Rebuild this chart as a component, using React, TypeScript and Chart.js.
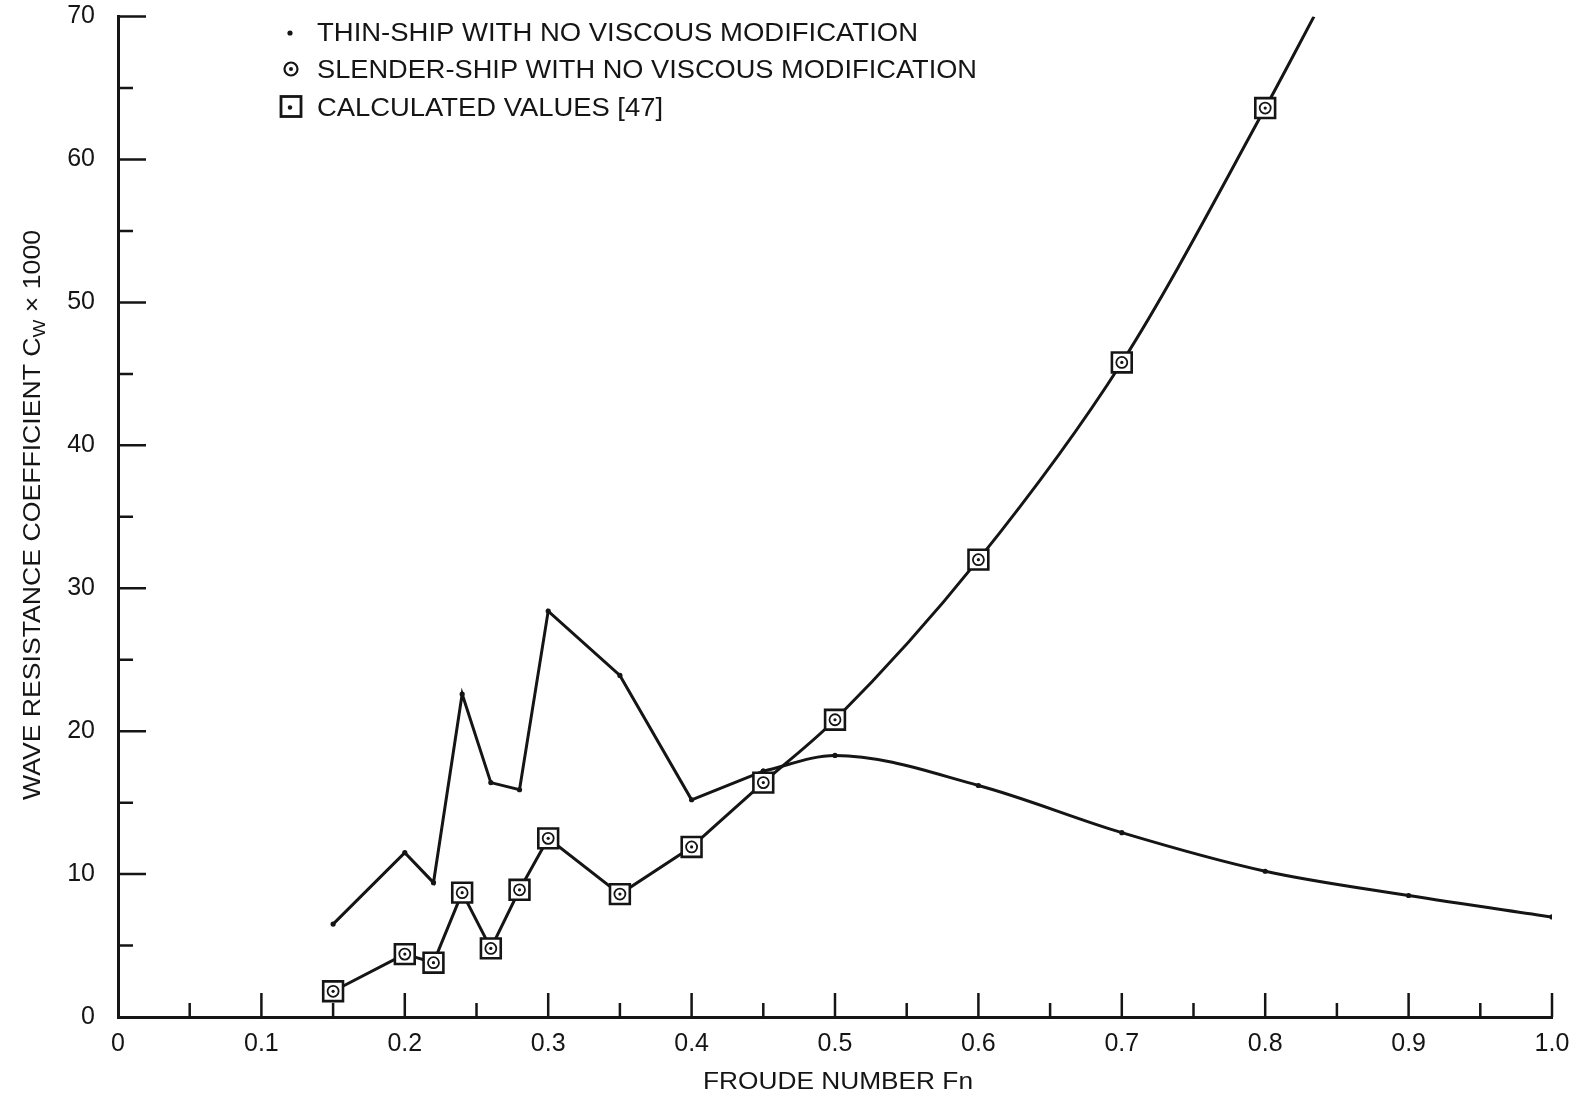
import React, { useEffect, useRef } from 'react';
import { Chart, registerables } from 'chart.js';

Chart.register(...registerables);

// ---- data ----
const thinFn = [0.15, 0.2, 0.22, 0.24, 0.26, 0.28, 0.3, 0.35, 0.4, 0.45, 0.5, 0.6, 0.7, 0.8, 0.9, 1.0];
const thinCw = [6.5, 11.5, 9.4, 22.6, 16.4, 15.9, 28.4, 23.9, 15.2, 17.2, 18.3, 16.2, 12.9, 10.2, 8.5, 7.0];
const thinBreakIndex = 9; // straight segments up to Fn 0.45, smooth afterwards

const slenderFn = [0.15, 0.2, 0.22, 0.24, 0.26, 0.28, 0.3, 0.35, 0.4, 0.45, 0.5, 0.6, 0.7, 0.8];
const slenderCw = [1.8, 4.4, 3.8, 8.7, 4.8, 8.9, 12.5, 8.6, 11.9, 16.4, 20.8, 32.0, 45.8, 63.6];
const slenderBreakIndex = 8; // straight segments up to Fn 0.40, smooth afterwards
const slenderTailFn = [0.834];
const slenderTailCw = [70];

const calcFn = [0.15, 0.2, 0.22, 0.24, 0.26, 0.28, 0.3, 0.35, 0.4, 0.45, 0.5, 0.6, 0.7, 0.8];
const calcCw = [1.8, 4.4, 3.8, 8.7, 4.8, 8.9, 12.5, 8.6, 11.9, 16.4, 20.8, 32.0, 45.8, 63.6];

const xTickLabels = ['0', '0.1', '0.2', '0.3', '0.4', '0.5', '0.6', '0.7', '0.8', '0.9', '1.0'];
const legendLabels = [
  'THIN-SHIP WITH NO VISCOUS MODIFICATION',
  'SLENDER-SHIP WITH NO VISCOUS MODIFICATION',
  'CALCULATED VALUES [47]',
];
const xTitle = 'FROUDE NUMBER Fn';
const yTitleMain = 'WAVE RESISTANCE COEFFICIENT C';
const yTitleSub = 'W';
const yTitleTail = ' \u00d7 1000';

const INK = '#151515';
const FONT = '"Liberation Sans", Arial, sans-serif';

const pts = (xs: number[], ys: number[]) => xs.map((x, i) => ({ x, y: ys[i] }));

function fitText(ctx: CanvasRenderingContext2D, text: string, x: number, baseline: number, width: number, size: number, align: 'left' | 'center' = 'left') {
  ctx.save();
  ctx.font = `${size}px ${FONT}`;
  ctx.textBaseline = 'alphabetic';
  ctx.textAlign = 'left';
  const w = ctx.measureText(text).width;
  const s = width / w;
  ctx.translate(align === 'center' ? x - width / 2 : x, baseline);
  ctx.scale(s, 1);
  ctx.fillText(text, 0, 0);
  ctx.restore();
}

const decorPlugin = {
  id: 'decor',
  afterDraw(chart: any) {
    const ctx: CanvasRenderingContext2D = chart.ctx;
    const xs = chart.scales.x;
    const ys = chart.scales.y;
    const a = chart.chartArea;
    ctx.save();
    ctx.strokeStyle = INK;
    ctx.fillStyle = INK;
    ctx.lineWidth = 2.5;
    ctx.lineCap = 'butt';
    // inward ticks on y axis
    ctx.beginPath();
    for (let i = 0; i <= 14; i++) {
      const v = i * 5;
      const p = ys.getPixelForValue(v);
      const len = i % 2 === 0 ? 28 : 15;
      if (v === 0) continue;
      ctx.moveTo(a.left, p);
      ctx.lineTo(a.left + len, p);
    }
    // inward ticks on x axis
    for (let i = 1; i <= 20; i++) {
      const v = i * 0.05;
      const p = xs.getPixelForValue(v);
      const len = i % 2 === 0 ? 24 : 14;
      ctx.moveTo(p, a.bottom);
      ctx.lineTo(p, a.bottom - len);
    }
    ctx.stroke();

    // x title
    ctx.fillStyle = INK;
    fitText(ctx, xTitle, 838, 1089, 270, 24, 'center');

    // y title (rotated, with subscript)
    const mainSize = 24;
    const subSize = 17;
    ctx.font = `${mainSize}px ${FONT}`;
    const w1 = ctx.measureText(yTitleMain).width;
    const w3 = ctx.measureText(yTitleTail).width;
    ctx.font = `${subSize}px ${FONT}`;
    const w2 = ctx.measureText(yTitleSub).width;
    const total = w1 + w2 + w3;
    const s = 570 / total;
    ctx.save();
    ctx.translate(31, 515);
    ctx.rotate(-Math.PI / 2);
    ctx.scale(s, 1);
    ctx.textBaseline = 'alphabetic';
    ctx.textAlign = 'left';
    let cx = -total / 2;
    const base = 8.6;
    ctx.font = `${mainSize}px ${FONT}`;
    ctx.fillText(yTitleMain, cx, base);
    cx += w1;
    ctx.font = `${subSize}px ${FONT}`;
    ctx.fillText(yTitleSub, cx, base + 5);
    cx += w2;
    ctx.font = `${mainSize}px ${FONT}`;
    ctx.fillText(yTitleTail, cx, base);
    ctx.restore();

    // legend
    const rowY = [31.5, 69, 106.5];
    const rowW = [601, 660, 346];
    const mx = 291;
    // dot
    ctx.beginPath();
    ctx.arc(mx - 1, rowY[0] + 1.5, 2.6, 0, Math.PI * 2);
    ctx.fill();
    // circle with dot
    ctx.lineWidth = 2.2;
    ctx.beginPath();
    ctx.arc(mx, rowY[1], 6.5, 0, Math.PI * 2);
    ctx.stroke();
    ctx.beginPath();
    ctx.arc(mx, rowY[1], 2, 0, Math.PI * 2);
    ctx.fill();
    // square with dot
    ctx.lineWidth = 2.8;
    ctx.strokeRect(mx - 10, rowY[2] - 10, 20, 20);
    ctx.beginPath();
    ctx.arc(mx - 1, rowY[2] + 1, 2.2, 0, Math.PI * 2);
    ctx.fill();
    for (let i = 0; i < legendLabels.length; i++) {
      fitText(ctx, legendLabels[i], 317, rowY[i] + 9, rowW[i], 25);
    }
    ctx.restore();
  },
};

export default function App() {
  const ref = useRef<HTMLCanvasElement | null>(null);

  useEffect(() => {
    document.body.style.margin = '0';
    document.body.style.background = '#ffffff';
    const canvas = ref.current;
    if (!canvas) return;

    const thinA = pts(thinFn.slice(0, thinBreakIndex + 1), thinCw.slice(0, thinBreakIndex + 1));
    const thinB = pts(thinFn.slice(thinBreakIndex), thinCw.slice(thinBreakIndex));
    const slenA = pts(slenderFn.slice(0, slenderBreakIndex + 1), slenderCw.slice(0, slenderBreakIndex + 1));
    const slenB = pts(
      slenderFn.slice(slenderBreakIndex).concat(slenderTailFn),
      slenderCw.slice(slenderBreakIndex).concat(slenderTailCw)
    );

    const lineBase = {
      borderColor: INK,
      borderWidth: 3,
      fill: false,
      pointRadius: 0,
      pointHoverRadius: 0,
      order: 10,
    };

    const chart = new Chart(canvas, {
      type: 'line',
      data: {
        datasets: [
          {
            ...lineBase,
            label: 'thin-a',
            data: thinA,
            tension: 0,
            pointRadius: 2.6,
            pointBackgroundColor: INK,
            pointBorderWidth: 0,
          },
          {
            ...lineBase,
            label: 'thin-b',
            data: thinB,
            cubicInterpolationMode: 'monotone',
            pointRadius: 2.6,
            pointBackgroundColor: INK,
            pointBorderWidth: 0,
          },
          { ...lineBase, label: 'slender-a', data: slenA, tension: 0 },
          { ...lineBase, label: 'slender-b', data: slenB, cubicInterpolationMode: 'monotone' },
          {
            label: 'calculated',
            data: pts(calcFn, calcCw),
            showLine: false,
            pointStyle: 'rect',
            pointRadius: 14,
            pointBorderWidth: 2.6,
            pointBorderColor: INK,
            pointBackgroundColor: '#ffffff',
            order: 3,
          },
          {
            label: 'slender',
            data: pts(slenderFn, slenderCw),
            showLine: false,
            pointStyle: 'circle',
            pointRadius: 5.5,
            pointBorderWidth: 1.8,
            pointBorderColor: INK,
            pointBackgroundColor: '#ffffff',
            order: 2,
          },
          {
            label: 'slender-dot',
            data: pts(slenderFn, slenderCw),
            showLine: false,
            pointStyle: 'circle',
            pointRadius: 1.6,
            pointBorderWidth: 0,
            pointBackgroundColor: INK,
            order: 1,
          },
        ] as any,
      },
      options: {
        animation: false,
        responsive: false,
        maintainAspectRatio: false,
        events: [],
        layout: { padding: { top: 16, right: 27, left: 0, bottom: 0 } },
        plugins: { legend: { display: false }, tooltip: { enabled: false }, title: { display: false } },
        scales: {
          x: {
            type: 'linear',
            min: 0,
            max: 1,
            grid: { display: false, drawTicks: false },
            border: { display: true, width: 3, color: INK },
            ticks: {
              stepSize: 0.1,
              padding: 12,
              color: INK,
              font: { family: FONT, size: 25 },
              maxRotation: 0,
              autoSkip: false,
              callback: (v: any) => xTickLabels[Math.round(Number(v) * 10)] ?? '',
            },
            afterFit: (s: any) => {
              s.height = 87;
              s.paddingLeft = 0;
              s.paddingRight = 0;
            },
          },
          y: {
            type: 'linear',
            min: 0,
            max: 70,
            grid: { display: false, drawTicks: false },
            border: { display: true, width: 3, color: INK },
            ticks: {
              stepSize: 10,
              padding: 23,
              color: INK,
              font: { family: FONT, size: 25 },
            },
            afterFit: (s: any) => {
              s.width = 118;
              s.paddingTop = 0;
              s.paddingBottom = 0;
            },
          },
        },
      } as any,
      plugins: [decorPlugin],
    });

    return () => {
      chart.destroy();
    };
  }, []);

  return (
    <div style={{ width: 1579, height: 1104, background: '#ffffff' }}>
      <canvas ref={ref} width={1579} height={1104} style={{ display: 'block', width: 1579, height: 1104 }} />
    </div>
  );
}
